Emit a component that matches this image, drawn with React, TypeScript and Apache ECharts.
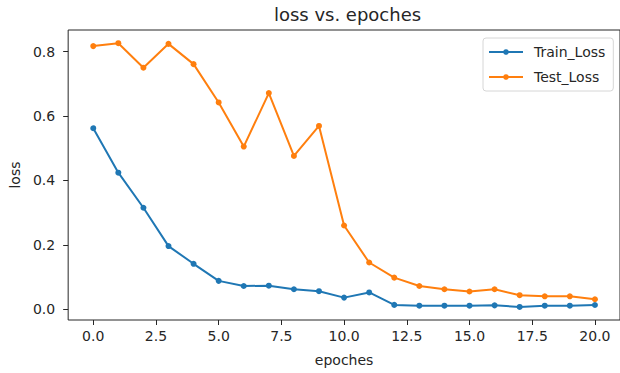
import React, { useEffect, useRef } from "react";
import * as echarts from "echarts";

const epochs = [0, 1, 2, 3, 4, 5, 6, 7, 8, 9, 10, 11, 12, 13, 14, 15, 16, 17, 18, 19, 20];
const trainLoss = [0.562, 0.424, 0.315, 0.196, 0.141, 0.088, 0.072, 0.073, 0.062, 0.056, 0.036, 0.052, 0.0134, 0.011, 0.011, 0.011, 0.012, 0.007, 0.011, 0.011, 0.013];
const testLoss = [0.817, 0.826, 0.750, 0.824, 0.761, 0.642, 0.505, 0.671, 0.476, 0.569, 0.260, 0.145, 0.098, 0.072, 0.062, 0.055, 0.062, 0.0435, 0.040, 0.040, 0.031];
const xTicks = [0, 2.5, 5, 7.5, 10, 12.5, 15, 17.5, 20];
const yTicks = [0, 0.2, 0.4, 0.6, 0.8];

const FONT = "DejaVu Sans";
const TXT = "#262626";

export default function App() {
  const ref = useRef<HTMLDivElement>(null);
  useEffect(() => {
    const chart = echarts.init(ref.current!, null, { renderer: "svg" });
    chart.setOption({
      animation: false,
      backgroundColor: "#ffffff",
      textStyle: { fontFamily: FONT },
      grid: {
        left: 68,
        top: 30,
        width: 559,
        height: 290,
        show: true,
        borderColor: "#262626",
        borderWidth: 1,
        backgroundColor: "transparent",
      },
      graphic: [
        {
          type: "text",
          x: 347.5,
          y: 14,
          style: {
            text: "loss vs. epoches",
            font: `18px '${FONT}'`,
            fill: TXT,
            textAlign: "center",
            textVerticalAlign: "middle",
          },
        },
      ],
      legend: {
        orient: "vertical",
        left: 483,
        top: 38,
        padding: [7, 8, 7, 5],
        itemWidth: 34,
        itemHeight: 7,
        itemGap: 11,
        backgroundColor: "rgba(255,255,255,0.8)",
        borderColor: "#d6d6d6",
        borderWidth: 1,
        borderRadius: 3,
        textStyle: { fontFamily: FONT, fontSize: 14, color: TXT, padding: [0, 0, 0, 6] },
        data: ["Train_Loss", "Test_Loss"],
      },
      xAxis: {
        type: "value",
        min: -1,
        max: 21,
        name: "epoches",
        nameLocation: "middle",
        nameGap: 33,
        nameTextStyle: { fontFamily: FONT, fontSize: 14, color: TXT },
        axisLine: { show: false, onZero: false },
        splitLine: { show: false },
        axisTick: {
          show: true,
          length: 5,
          customValues: xTicks,
          lineStyle: { color: "#262626", width: 1 },
        },
        axisLabel: {
          customValues: xTicks,
          margin: 9,
          fontFamily: FONT,
          fontSize: 14,
          color: TXT,
          formatter: (v: number) => v.toFixed(1),
        },
      },
      yAxis: {
        type: "value",
        min: -0.0335,
        max: 0.867,
        name: "loss",
        nameLocation: "middle",
        nameGap: 40,
        nameTextStyle: { fontFamily: FONT, fontSize: 14, color: TXT },
        axisLine: { show: false, onZero: false },
        splitLine: { show: false },
        axisTick: {
          show: true,
          length: 5,
          customValues: yTicks,
          lineStyle: { color: "#262626", width: 1 },
        },
        axisLabel: {
          customValues: yTicks,
          margin: 13,
          fontFamily: FONT,
          fontSize: 14,
          color: TXT,
          formatter: (v: number) => v.toFixed(1),
        },
      },
      series: [
        {
          name: "Train_Loss",
          type: "line",
          data: epochs.map((e, i) => [e, trainLoss[i]]),
          symbol: "circle",
          symbolSize: 6,
          showSymbol: true,
          color: "#1f77b4",
          lineStyle: { width: 2, color: "#1f77b4" },
          itemStyle: { color: "#1f77b4" },
        },
        {
          name: "Test_Loss",
          type: "line",
          data: epochs.map((e, i) => [e, testLoss[i]]),
          symbol: "circle",
          symbolSize: 6,
          showSymbol: true,
          color: "#ff7f0e",
          lineStyle: { width: 2, color: "#ff7f0e" },
          itemStyle: { color: "#ff7f0e" },
        },
      ],
    });
    return () => chart.dispose();
  }, []);
  return (
    <div
      ref={ref}
      style={{ position: "fixed", left: 0, top: 0, width: 620, height: 373 }}
    />
  );
}
